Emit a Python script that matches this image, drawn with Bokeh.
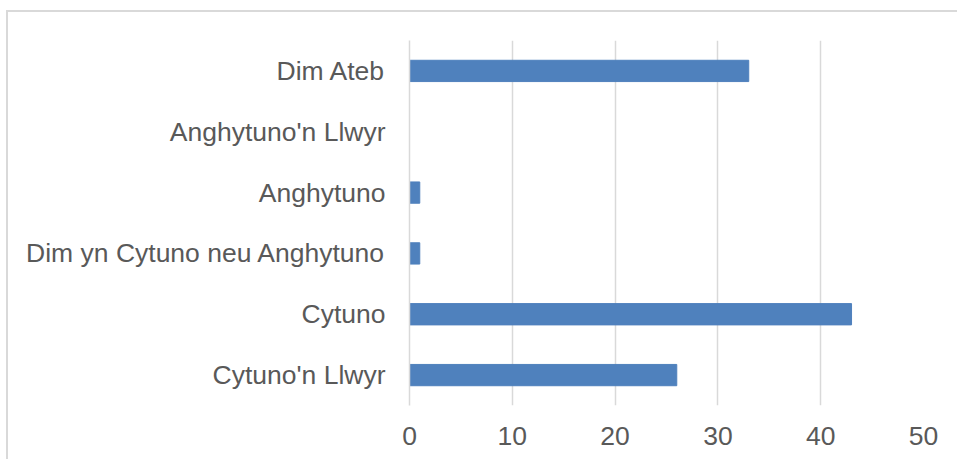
from bokeh.plotting import figure
from bokeh.models import FactorRange, Range1d, FixedTicker, BoxAnnotation, InlineStyleSheet
from bokeh.embed import file_html
from bokeh.resources import INLINE

categories = ["Cytuno'n Llwyr", "Cytuno", "Dim yn Cytuno neu Anghytuno",
              "Anghytuno", "Anghytuno'n Llwyr", "Dim Ateb"]
values = [26, 43, 1, 1, 0, 33]
x_ticks = [0, 10, 20, 30, 40, 50]

p = figure(width=949, height=451, output_backend="svg", toolbar_location=None,
           y_range=FactorRange(*categories, range_padding=0),
           x_range=Range1d(0, 50),
           min_border_left=409, min_border_right=26, min_border_top=40, min_border_bottom=46)

p.hbar(y=categories, right=values, left=0, height=0.35, color="#4f81bd")

p.outline_line_color = None
p.background_fill_color = "white"
p.border_fill_color = "white"

p.ygrid.grid_line_color = None
p.xgrid.grid_line_color = "#d9d9d9"
p.xgrid.grid_line_width = 1.5
p.xaxis.ticker = FixedTicker(ticks=x_ticks)

for ax in (p.xaxis[0], p.yaxis[0]):
    ax.major_tick_line_color = None
    ax.minor_tick_line_color = None
    ax.major_label_text_font = "Liberation Sans"
    ax.major_label_text_font_size = "26.5px"
    ax.major_label_text_color = "#595959"

p.xaxis.axis_line_color = None
p.yaxis.axis_line_color = "#d9d9d9"
p.yaxis.axis_line_width = 1.5
p.xaxis.major_label_standoff = 15
p.yaxis.major_label_standoff = 18

# chart-area border (left and top edges; right and bottom fall outside the picture)
css = InlineStyleSheet(css="""
:host::after {
  content: '';
  position: absolute;
  left: 6px; top: 10px; width: 960px; height: 460px;
  border-left: 2px solid #d9d9d9;
  border-top: 2px solid #d9d9d9;
  pointer-events: none;
  z-index: 10;
}
""")
p.stylesheets = [css]

open("out.html", "w").write(file_html(p, INLINE))
